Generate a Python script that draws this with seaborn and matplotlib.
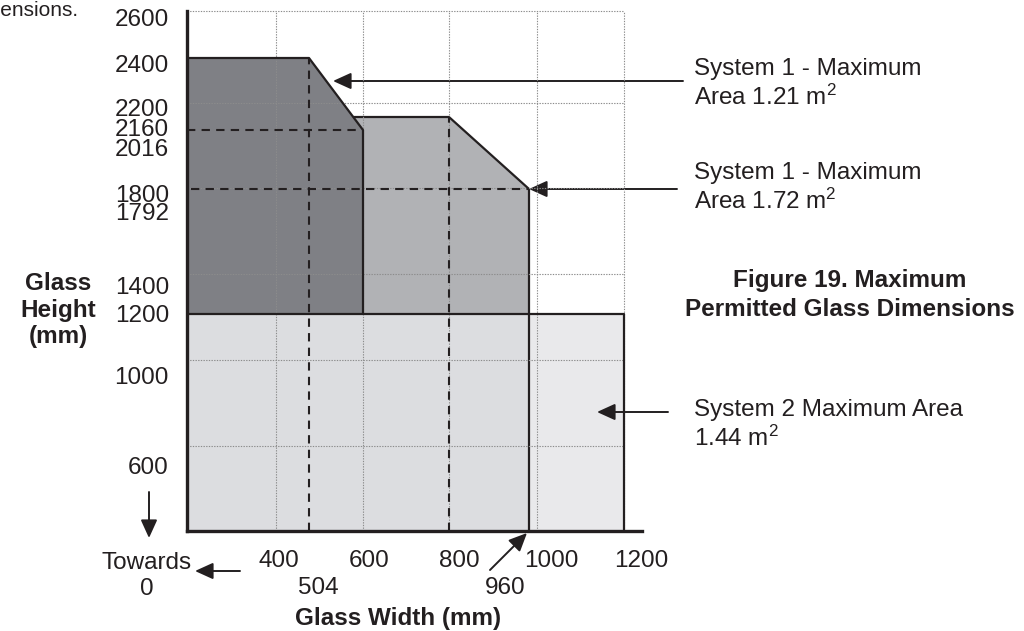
import numpy as np
import pandas as pd
import matplotlib
matplotlib.use("Agg")
import matplotlib.pyplot as plt
from matplotlib.transforms import ScaledTranslation
import seaborn as sns

# values (mm)
width_ticks = [400, 600, 800, 1000, 1200]
height_ticks = [600, 1000, 1200, 1400, 1792, 1800, 2016, 2160, 2200, 2400, 2600]
width_notes = [504, 960]
grid_w = [400, 600, 800, 1000, 1200]
grid_h = [600, 1000, 1400, 1800, 2200, 2600]

# System 1 - 1.21 m2 boundary
s1a_w = [200, 504, 600, 600]
s1a_h = [2400, 2400, 2016, 1200]
# System 1 - 1.72 m2 boundary
s1b_w = [200, 800, 960, 960]
s1b_h = [2160, 2160, 1792, 200]
# System 2 - 1.44 m2 rectangle
s2_w = [200, 1200, 1200]
s2_h = [1200, 1200, 200]

x_min, x_max = 200, 1240
y_min, y_max = 200, 2600

# the drawing is not to scale: piecewise scale knots (mm -> pixels)
x_knots = [0, 200, 400, 504, 600, 800, 960, 1000, 1200, 1240, 3000]
x_pix = [100, 187, 276, 309, 363, 449, 529, 537, 624, 642, 1400]
y_knots = [0, 200, 600, 1000, 1200, 1400, 1792, 1800, 2016, 2160, 2200, 2400, 2600, 4000]
y_pix = [58, 100, 185, 271, 317, 357, 442, 443, 501, 514, 528, 573, 620, 920]

def fwd_x(v):
    return np.interp(v, x_knots, x_pix)

def inv_x(p):
    return np.interp(p, x_pix, x_knots)

def fwd_y(v):
    return np.interp(v, y_knots, y_pix)

def inv_y(p):
    return np.interp(p, y_pix, y_knots)

sns.set_theme(style="white")
plt.rcParams["font.family"] = ["Liberation Sans", "DejaVu Sans"]
plt.rcParams["mathtext.fontset"] = "custom"
plt.rcParams["mathtext.rm"] = "Liberation Sans"
plt.rcParams["mathtext.it"] = "Liberation Sans:italic"

FS = 17.5
ink = "#231f20"
dark = "#7f8085"
mid = "#b1b2b5"
light = "#dcdde0"
lighter = "#e9e9eb"

fig = plt.figure(figsize=(10.24, 6.31), dpi=100)
fig.patch.set_facecolor("white")
ax = fig.add_axes([187 / 1024, 100 / 631, 455 / 1024, 520 / 631])
ax.set_xscale("function", functions=(fwd_x, inv_x))
ax.set_yscale("function", functions=(fwd_y, inv_y))
ax.set_xlim(x_min, x_max)
ax.set_ylim(y_min, y_max)

# fills
ax.fill([x_min, s1b_w[-1], s1b_w[-1], x_min], [y_min, y_min, s2_h[0], s2_h[0]],
        color=light, lw=0, zorder=1)
ax.fill([s1b_w[-1], s2_w[1], s2_w[1], s1b_w[-1]], [y_min, y_min, s2_h[0], s2_h[0]],
        color=lighter, lw=0, zorder=1)
ax.fill([x_min] + s1b_w[:3] + [s1b_w[2]], [s2_h[0]] + s1b_h[:3] + [s2_h[0]],
        color=mid, lw=0, zorder=1)

outline = pd.DataFrame({"w": s1b_w, "h": s1b_h})
sns.lineplot(data=outline, x="w", y="h", sort=False, estimator=None,
             color=ink, lw=1.6, ax=ax, zorder=2)

ax.fill([x_min] + s1a_w + [x_min], [s2_h[0]] + s1a_h + [s2_h[0]],
        color=dark, lw=0, zorder=3)

# dotted grid
ax.vlines(grid_w, y_min, y_max, colors="#8c8c8c", lw=0.8,
          linestyles=(0, (1.2, 1.2)), zorder=3.5, clip_on=False)
ax.hlines(grid_h, x_min, grid_w[-1], colors="#8c8c8c", lw=0.8,
          linestyles=(0, (1.2, 1.2)), zorder=3.5, clip_on=False)

# dashed reference lines
dash = (0, (4, 3))
ax.plot([s1a_w[1], s1a_w[1]], [y_min, s1a_h[1]], color=ink, lw=1.5, ls=dash, zorder=4)
ax.plot([x_min, s1a_w[2]], [s1a_h[2], s1a_h[2]], color=ink, lw=1.5, ls=dash, zorder=4)
ax.plot([x_min + 8, s1b_w[2]], [s1b_h[2], s1b_h[2]], color=ink, lw=1.5, ls=dash, zorder=4)
ax.plot([s1b_w[1], s1b_w[1]], [y_min, s1b_h[1]], color=ink, lw=1.5, ls=dash, zorder=4)

for ws, hs in [(s1a_w, s1a_h), (s2_w, s2_h)]:
    sns.lineplot(data=pd.DataFrame({"w": ws, "h": hs}), x="w", y="h", sort=False,
                 estimator=None, color=ink, lw=1.6, ax=ax, zorder=5)

# axes
for side in ["top", "right"]:
    ax.spines[side].set_visible(False)
for side in ["left", "bottom"]:
    ax.spines[side].set_linewidth(2.4)
    ax.spines[side].set_color(ink)
    ax.spines[side].set_zorder(6)
ax.set_xlabel("")
ax.set_ylabel("")
ax.grid(False)

ax.set_xticks(width_ticks)
ax.set_xticklabels([str(v) for v in width_ticks])
ax.set_yticks(height_ticks)
ax.set_yticklabels([str(v) for v in height_ticks])
ax.minorticks_off()
ax.tick_params(axis="both", length=0, labelsize=FS, colors=ink)
ax.tick_params(axis="x", pad=14)
ax.tick_params(axis="y", pad=13)

x_shift = [3, 6, 10, 14, 17]
for lab, dx in zip(ax.get_xticklabels(), x_shift):
    lab.set_transform(lab.get_transform() + ScaledTranslation(dx / 100, 0, fig.dpi_scale_trans))
y_shift = [20, 15, -1, 11, 23, 6, 18, 10, 4, 5, 7]
for lab, dy in zip(ax.get_yticklabels(), y_shift):
    lab.set_transform(lab.get_transform() + ScaledTranslation(0, -dy / 100, fig.dpi_scale_trans))

# second row of width labels
for v, dx in zip(width_notes, [9, -24]):
    ax.annotate(str(v), xy=(v, y_min), xytext=(dx, -57), textcoords="offset pixels",
                ha="center", va="center", fontsize=FS, color=ink)

H = 631
arrow = dict(arrowstyle="-|>,head_length=0.55,head_width=0.25", color=ink,
             lw=1.4, mutation_scale=20, shrinkA=0, shrinkB=0)
for tail, tip in [((683, H - 81), (333, H - 81)),
                  ((677, H - 189), (529, H - 189)),
                  ((668, H - 412), (597, H - 412)),
                  ((490, H - 570), (527, H - 533)),
                  ((149, H - 492), (149, H - 538)),
                  ((240, H - 571), (195, H - 571))]:
    ax.annotate("", xy=tip, xytext=tail, xycoords="figure pixels",
                textcoords="figure pixels", arrowprops=arrow, annotation_clip=False)

fig.text(694 / 1024, 1 - 84 / H, "System 1 - Maximum\nArea 1.21 m$^2$", fontsize=FS,
         ha="left", va="center", linespacing=1.22, color=ink)
fig.text(694 / 1024, 1 - 188 / H, "System 1 - Maximum\nArea 1.72 m$^2$", fontsize=FS,
         ha="left", va="center", linespacing=1.22, color=ink)
fig.text(694 / 1024, 1 - 425 / H, "System 2 Maximum Area\n1.44 m$^2$", fontsize=FS,
         ha="left", va="center", linespacing=1.22, color=ink)
fig.text(850 / 1024, 1 - 295 / H, "Figure 19. Maximum\nPermitted Glass Dimensions",
         fontsize=FS, fontweight="bold", ha="center", va="center", linespacing=1.3,
         color=ink)
fig.text(58 / 1024, 1 - 310 / H, "Glass\nHeight\n(mm)", fontsize=FS, fontweight="bold",
         ha="center", va="center", linespacing=1.2, color=ink)
fig.text(147 / 1024, 1 - 576 / H, "Towards\n0", fontsize=FS, ha="center", va="center",
         linespacing=1.25, color=ink)
fig.text(398 / 1024, 1 - 618 / H, "Glass Width (mm)", fontsize=FS, fontweight="bold",
         ha="center", va="center", color=ink)
fig.text(78 / 1024, 1 - 11 / H, "Dimensions.", fontsize=15, ha="right", va="center",
         color=ink)

fig.savefig("out.png", dpi=100)
